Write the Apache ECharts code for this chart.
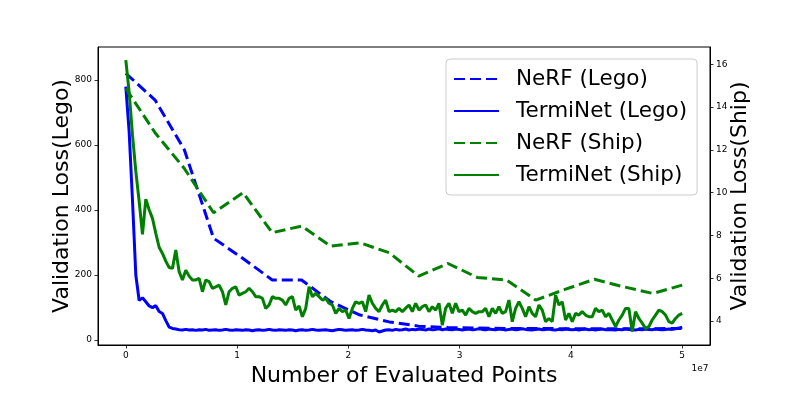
<!DOCTYPE html>
<html><head><meta charset="utf-8">
<script src="https://cdn.jsdelivr.net/npm/echarts@6/dist/echarts.min.js"></script>
<style>html,body{margin:0;padding:0;background:#fff}#c{width:789px;height:395px}</style>
</head><body><div id="c"></div>
<script>
// x in units of 1e7 evaluated points
const nerfX = [0, 0.263, 0.526, 0.789, 1.053, 1.316, 1.579, 1.842, 2.105, 2.368, 2.632, 2.895, 3.158, 3.421, 3.684, 3.947, 4.211, 4.474, 4.737, 5.0];
const nerfLego = [820, 738, 585, 313, 251, 185, 185, 118, 77, 56, 43, 39, 37, 36, 36, 35, 35, 35, 35, 36];
const nerfShip = [14.87, 12.80, 11.13, 9.06, 10.0, 8.13, 8.44, 7.50, 7.66, 7.19, 6.10, 6.69, 6.04, 5.92, 4.98, 5.48, 5.95, 5.60, 5.29, 5.68];

const terminetLego = [
  779, 640, 430, 200, 122, 130, 118, 105, 100, 106, 88, 82, 60, 40, 36, 34, 32,
  31,33,31,32,30,32,31,33,30,31,
  32,30,31,33,31,30,32,31,30,32,
  31,29,31,32,30,31,33,31,30,32,
  31,30,32,31,29,31,32,30,31,33,
  31,30,31,32,30,29,31,33,32,30,
  31,32,30,31,33,31,30,29,31,25,
  28,31,32,30,33,31,32,34,31,33,
  32,34,33,31,34,32,33,35,32,34,
  33,32,34,33,31,33,34,32,33,35,
  33,32,34,33,32,34,33,31,33,34,
  32,33,35,33,32,31,33,34,32,33,
  34,32,31,33,32,34,33,32,33,31,
  33,34,32,33,31,33,34,32,33,32,
  31,33,32,34,33,32,31,33,32,34,
  33,32,34,33,32,33,34,33,35,37,
  40
];
const terminetShip = [
  16.2, 14.7, 12.7, 11.0, 9.6, 8.05, 9.7, 9.2, 8.8, 8.1, 7.45, 7.16, 6.8, 6.5, 6.46, 7.32, 6.31, 5.92, 6.38, 6.1,
  5.92, 5.92, 5.99, 5.37, 5.92, 5.84, 5.53, 5.60,
  5.68, 5.37, 4.75, 5.37, 5.53, 5.60, 5.21, 5.29, 5.37, 5.53,
  5.37, 5.14, 5.14, 5.06, 4.59, 4.75, 5.14, 5.06, 5.06, 4.98,
  4.75, 5.06, 5.14, 4.51, 4.70, 4.20, 4.59, 5.60, 5.14, 5.29,
  5.14, 4.98, 5.06, 4.83, 4.75, 4.36, 4.59, 4.44, 4.51, 4.12,
  4.59, 4.90, 4.83, 4.90, 4.44, 5.21, 4.83, 4.59, 4.44, 4.75,
  4.98, 4.44, 4.51, 4.44, 4.59, 4.44, 4.60, 4.75, 4.44, 4.83,
  4.51, 4.67, 4.75, 4.44, 4.67, 4.51, 4.83, 3.81, 4.59, 4.83,
  4.36, 4.83, 4.44, 4.51, 4.28, 4.59, 4.44, 4.36, 4.44, 4.44,
  4.59, 4.20, 4.59, 4.36, 4.67, 4.36, 4.44, 4.98, 3.97, 4.59,
  4.90, 4.59, 4.20, 4.67, 4.36, 4.20, 4.75, 4.51, 3.97, 4.12,
  3.97, 5.21, 4.75, 4.90, 4.05, 4.36, 3.97, 4.36, 4.28, 4.44,
  4.28, 4.20, 4.20, 4.59, 4.44, 4.51, 4.20, 4.36, 4.05, 3.74,
  4.05, 4.28, 4.59, 4.59, 3.51, 4.44, 4.12, 3.90, 3.66, 3.74,
  4.05, 4.28, 4.51, 4.44, 4.28, 3.97, 3.90, 4.12, 4.28, 4.36
];
// TermiNet checkpoints: evenly spaced evaluation counts from 0 to 5e7
const terminetX = terminetShip.map((_, i) => i * 5 / (terminetShip.length - 1));

const xTicks = [0, 1, 2, 3, 4, 5];
const legoTicks = [0, 200, 400, 600, 800];
const shipTicks = [4, 6, 8, 10, 12, 14, 16];

const FF = 'DejaVu Sans';
const pairs = (xs, ys) => ys.map((y, i) => [xs[i], y]);
const BLUE = '#0000ff', GREEN = '#008000';

function axisCommon(ticks) {
  return {
    axisLine: { show: true, onZero: false, lineStyle: { color: '#000', width: 1 } },
    axisTick: { show: true, customValues: ticks, length: 3.5, lineStyle: { color: '#000', width: 0.8 } },
    axisLabel: { customValues: ticks, margin: 6, fontSize: 9, color: '#000', fontFamily: FF },
    splitLine: { show: false },
    nameTextStyle: { fontSize: 22, color: '#000', fontFamily: FF }
  };
}

const chart = echarts.init(document.getElementById('c'));
chart.setOption({
  animation: false,
  backgroundColor: '#fff',
  grid: { left: 98, right: 79, top: 47, bottom: 50, show: true, borderColor: '#000', borderWidth: 1, backgroundColor: 'transparent' },
  xAxis: Object.assign(axisCommon(xTicks), {
    type: 'value', min: -0.25, max: 5.25,
    name: 'Number of Evaluated Points', nameLocation: 'middle', nameGap: 17
  }),
  yAxis: [
    Object.assign(axisCommon(legoTicks), {
      type: 'value', position: 'left', min: -15, max: 901,
      name: 'Validation Loss(Lego)', nameLocation: 'middle', nameGap: 25, nameMoveOverlap: false
    }),
    Object.assign(axisCommon(shipTicks), {
      type: 'value', position: 'right', min: 2.88, max: 16.81,
      name: 'Validation Loss(Ship)', nameLocation: 'middle', nameGap: 19, nameMoveOverlap: false
    })
  ],
  legend: {
    orient: 'vertical', left: 446, top: 59,
    itemWidth: 45, itemHeight: 12, itemGap: 10,
    itemStyle: { opacity: 0 },
    padding: [9, 10, 9, 7],
    backgroundColor: 'rgba(255,255,255,0.8)', borderColor: '#cccccc', borderWidth: 1, borderRadius: 4,
    textStyle: { fontSize: 21.5, fontFamily: FF, color: '#000', padding: [0, 0, 0, 12] },
    data: ['NeRF (Lego)', 'TermiNet (Lego)', 'NeRF (Ship)', 'TermiNet (Ship)']
  },
  graphic: [{
    type: 'text', z: 10,
    style: { text: '1e7', x: 700, y: 369, align: 'center', verticalAlign: 'middle', font: '9px DejaVu Sans', fill: '#000' }
  }],
  series: [
    { name: 'NeRF (Lego)', type: 'line', yAxisIndex: 0, data: pairs(nerfX, nerfLego), symbol: 'none', showSymbol: false,
      lineStyle: { color: BLUE, width: 3, type: [11, 5] }, itemStyle: { color: BLUE } },
    { name: 'TermiNet (Lego)', type: 'line', yAxisIndex: 0, data: pairs(terminetX, terminetLego), symbol: 'none', showSymbol: false,
      lineStyle: { color: BLUE, width: 3 }, itemStyle: { color: BLUE } },
    { name: 'NeRF (Ship)', type: 'line', yAxisIndex: 1, data: pairs(nerfX, nerfShip), symbol: 'none', showSymbol: false,
      lineStyle: { color: GREEN, width: 3, type: [11, 5] }, itemStyle: { color: GREEN } },
    { name: 'TermiNet (Ship)', type: 'line', yAxisIndex: 1, data: pairs(terminetX, terminetShip), symbol: 'none', showSymbol: false,
      lineStyle: { color: GREEN, width: 3 }, itemStyle: { color: GREEN } }
  ]
});
</script></body></html>
